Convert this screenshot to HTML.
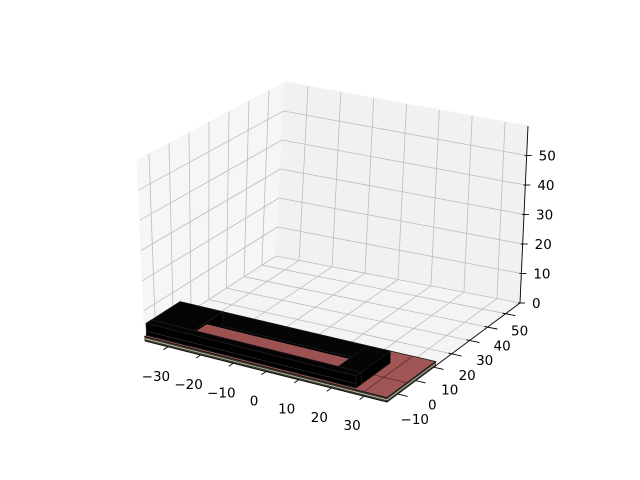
<!DOCTYPE html>
<html><head><meta charset="utf-8"><style>
html,body{margin:0;padding:0;background:#fff;}
svg{display:block;font-family:"DejaVu Sans","Liberation Sans",sans-serif;}
</style></head><body>
<svg id="chart" width="640" height="480" viewBox="0 0 640 480" xmlns="http://www.w3.org/2000/svg">
<rect width="640" height="480" fill="#fff"/>
<g id="panes"></g>
<g id="grid"></g>
<g id="axes"></g>
<g id="bars"></g>
<g id="labels"></g>
</svg>
<script>
// axis tick values
const xTicks = [-30, -20, -10, 0, 10, 20, 30];
const yTicks = [-10, 0, 10, 20, 30, 40, 50];
const zTicks = [0, 10, 20, 30, 40, 50];
const xRange = [-37, 37];
const yRange = [-16, 58];
const zRange = [0, 60];
// cuboids: x0, y0, z0, dx, dy, dz
const plateBox = [-37, -16, 0, 74, 27, 1.5];
const innerBox = [-24, -12, 1.5, 44, 7, 3.2];
const frameX = [-37, -37, -37, 20];
const frameY = [-15, -5, -15, -15];
const frameDX = [64, 64, 13, 7];
const frameDY = [3, 9, 19, 19];
const frameZ0 = 1.5;
const frameH = 4;
const plateCellsX = [-10, 10, 30];
const plateCellsY = [-5];

const NS = "http://www.w3.org/2000/svg";
const A = [145, 341], C = [387, 402], D = [520, 303], B = [276, 256];
const At = [137, 160], Ct = [387, 223], Dt = [528, 126], Bt = [285, 82];
function lerp(p, q, t) { return [p[0] + (q[0] - p[0]) * t, p[1] + (q[1] - p[1]) * t]; }
function P(x, y, z) {
  const u = (x - xRange[0]) / (xRange[1] - xRange[0]);
  const v = (y - yRange[0]) / (yRange[1] - yRange[0]);
  const w = (z - zRange[0]) / (zRange[1] - zRange[0]);
  const f = lerp(lerp(A, C, u), lerp(B, D, u), v);
  const t = lerp(lerp(At, Ct, u), lerp(Bt, Dt, u), v);
  return lerp(f, t, w);
}
function mk(tag, attrs, parent) {
  const e = document.createElementNS(NS, tag);
  for (const k in attrs) e.setAttribute(k, attrs[k]);
  parent.appendChild(e);
  return e;
}
function pts(arr) { return arr.map(p => p[0].toFixed(1) + "," + p[1].toFixed(1)).join(" "); }

const panes = document.getElementById("panes");
let e;
e = mk("polygon", { points: pts([A, B, Bt, At]), fill: "#f6f6f6", stroke: "#f6f6f6" }, panes);


e = mk("polygon", { points: pts([B, D, Dt, Bt]), fill: "#f1f1f1", stroke: "#f1f1f1" }, panes);


e = mk("polygon", { points: pts([A, C, D, B]), fill: "#f4f4f4", stroke: "#f4f4f4" }, panes);



const grid = document.getElementById("grid");
function gl(p, q, name) {
  const l = mk("line", { x1: p[0], y1: p[1], x2: q[0], y2: q[1], stroke: "#bdbdbd", "stroke-width": 0.8 }, grid);
  
  
}
const zTop = zRange[1];
yTicks.forEach(y => { gl(P(xRange[0], y, 0), P(xRange[0], y, zTop), 'grid-left-y'); gl(P(xRange[0], y, 0), P(xRange[1], y, 0), 'grid-floor-y'); });
zTicks.forEach(z => { gl(P(xRange[0], yRange[0], z), P(xRange[0], yRange[1], z), 'grid-left-z'); gl(P(xRange[0], yRange[1], z), P(xRange[1], yRange[1], z), 'grid-back-z'); });
xTicks.forEach(x => { gl(P(x, yRange[1], 0), P(x, yRange[1], zTop), 'grid-back-x'); gl(P(x, yRange[0], 0), P(x, yRange[1], 0), 'grid-floor-x'); });

const axes = document.getElementById("axes");
function al(p, q, name) {
  const l = mk("line", { x1: p[0], y1: p[1], x2: q[0], y2: q[1], stroke: "#000", "stroke-width": 0.9 }, axes);
  
  
}
al(A, C, 'x-axis-line');
al(C, D, 'y-axis-line');
al(D, Dt, 'z-axis-line');
xTicks.forEach(x => al(P(x, yRange[0] + 1, 0), P(x, yRange[0] - 2.5, 0), 'x-tick'));
yTicks.forEach(y => al(P(xRange[1] - 1, y, 0), P(xRange[1] + 3, y, 0), 'y-tick'));
zTicks.forEach(z => { const p = P(xRange[1], yRange[1], z); al([p[0] - 2, p[1]], [p[0] + 5, p[1]], 'z-tick'); });

const bars = document.getElementById("bars");
function cuboid(x0, y0, z0, dx, dy, dz, top, front, right, stroke, name) {
  const x1 = x0 + dx, y1 = y0 + dy, z1 = z0 + dz;
  const g = mk("g", {}, bars);
  
  
  mk("polygon", { points: pts([P(x0, y0, z0), P(x1, y0, z0), P(x1, y0, z1), P(x0, y0, z1)]), fill: front, stroke: stroke, "stroke-width": 0.7 }, g);
  mk("polygon", { points: pts([P(x1, y0, z0), P(x1, y1, z0), P(x1, y1, z1), P(x1, y0, z1)]), fill: right, stroke: stroke, "stroke-width": 0.7 }, g);
  mk("polygon", { points: pts([P(x0, y0, z1), P(x1, y0, z1), P(x1, y1, z1), P(x0, y1, z1)]), fill: top, stroke: stroke, "stroke-width": 0.7 }, g);
  return g;
}
const pg = cuboid(plateBox[0], plateBox[1], plateBox[2], plateBox[3], plateBox[4], plateBox[5], "#a05656", "#3c3c34", "#3c3c34", "#111", "red-plate");
const pz = plateBox[2] + plateBox[5];
plateCellsX.forEach(x => {
  const a = P(x, plateBox[1], pz), b = P(x, plateBox[1] + plateBox[4], pz);
  mk("line", { x1: a[0], y1: a[1], x2: b[0], y2: b[1], stroke: "#6a2a2a", "stroke-width": 0.8 }, pg);
});
plateCellsY.forEach(y => {
  const a = P(plateBox[0], y, pz), b = P(plateBox[0] + plateBox[3], y, pz);
  mk("line", { x1: a[0], y1: a[1], x2: b[0], y2: b[1], stroke: "#6a2a2a", "stroke-width": 0.8 }, pg);
});
{
  const a = P(plateBox[0], plateBox[1], plateBox[5] * 0.5), b = P(plateBox[0] + plateBox[3], plateBox[1], plateBox[5] * 0.5), c = P(plateBox[0] + plateBox[3], plateBox[1] + plateBox[4], plateBox[5] * 0.5);
  mk("polyline", { points: pts([a, b, c]), fill: "none", stroke: "#c8c8a8", "stroke-width": 0.8 }, pg);
}
const names = ['frame-front-wall', 'frame-back-wall', 'frame-left-end', 'frame-right-end'];
function frame(i) {
  const g = cuboid(frameX[i], frameY[i], frameZ0, frameDX[i], frameDY[i], frameH, "#050505", "#000", "#000", "#1e1e1e", names[i]);
  const a = P(frameX[i], frameY[i], frameZ0 + frameH * 0.35), b = P(frameX[i] + frameDX[i], frameY[i], frameZ0 + frameH * 0.35);
  mk("line", { x1: a[0], y1: a[1], x2: b[0], y2: b[1], stroke: "#2a2a2a", "stroke-width": 0.8 }, g);
}
frame(1); frame(2);
cuboid(innerBox[0], innerBox[1], innerBox[2], innerBox[3], innerBox[4], innerBox[5], "#9c5252", "#9c5252", "#9c5252", "#9c5252", "inner-red-strip");
frame(3); frame(0);

const labels = document.getElementById("labels");
function tx(s, x, y, anchor, name) {
  const t = mk("text", { x: x, y: y, "font-size": 13.5, fill: "#000", "text-anchor": anchor }, labels);
  t.textContent = s;
  
  
}
function fmt(v) { return v < 0 ? "\u2212" + Math.abs(v) : String(v); }
xTicks.forEach(x => { const p = P(x, yRange[0], 0); tx(fmt(x), p[0] - 12, p[1] + 34, "middle", 'x-tick-label'); });
yTicks.forEach(y => {
  const p = P(xRange[1], y, 0); const f = (y + 10) / 60;
  tx(fmt(y), p[0] + 17 - 3 * f, p[1] + 30 - 8 * f, "middle", 'y-tick-label');
});
zTicks.forEach(z => { const p = P(xRange[1], yRange[1], z); tx(fmt(z), p[0] + 12, p[1] + 5, "start", 'z-tick-label'); });
</script>
</body></html>
